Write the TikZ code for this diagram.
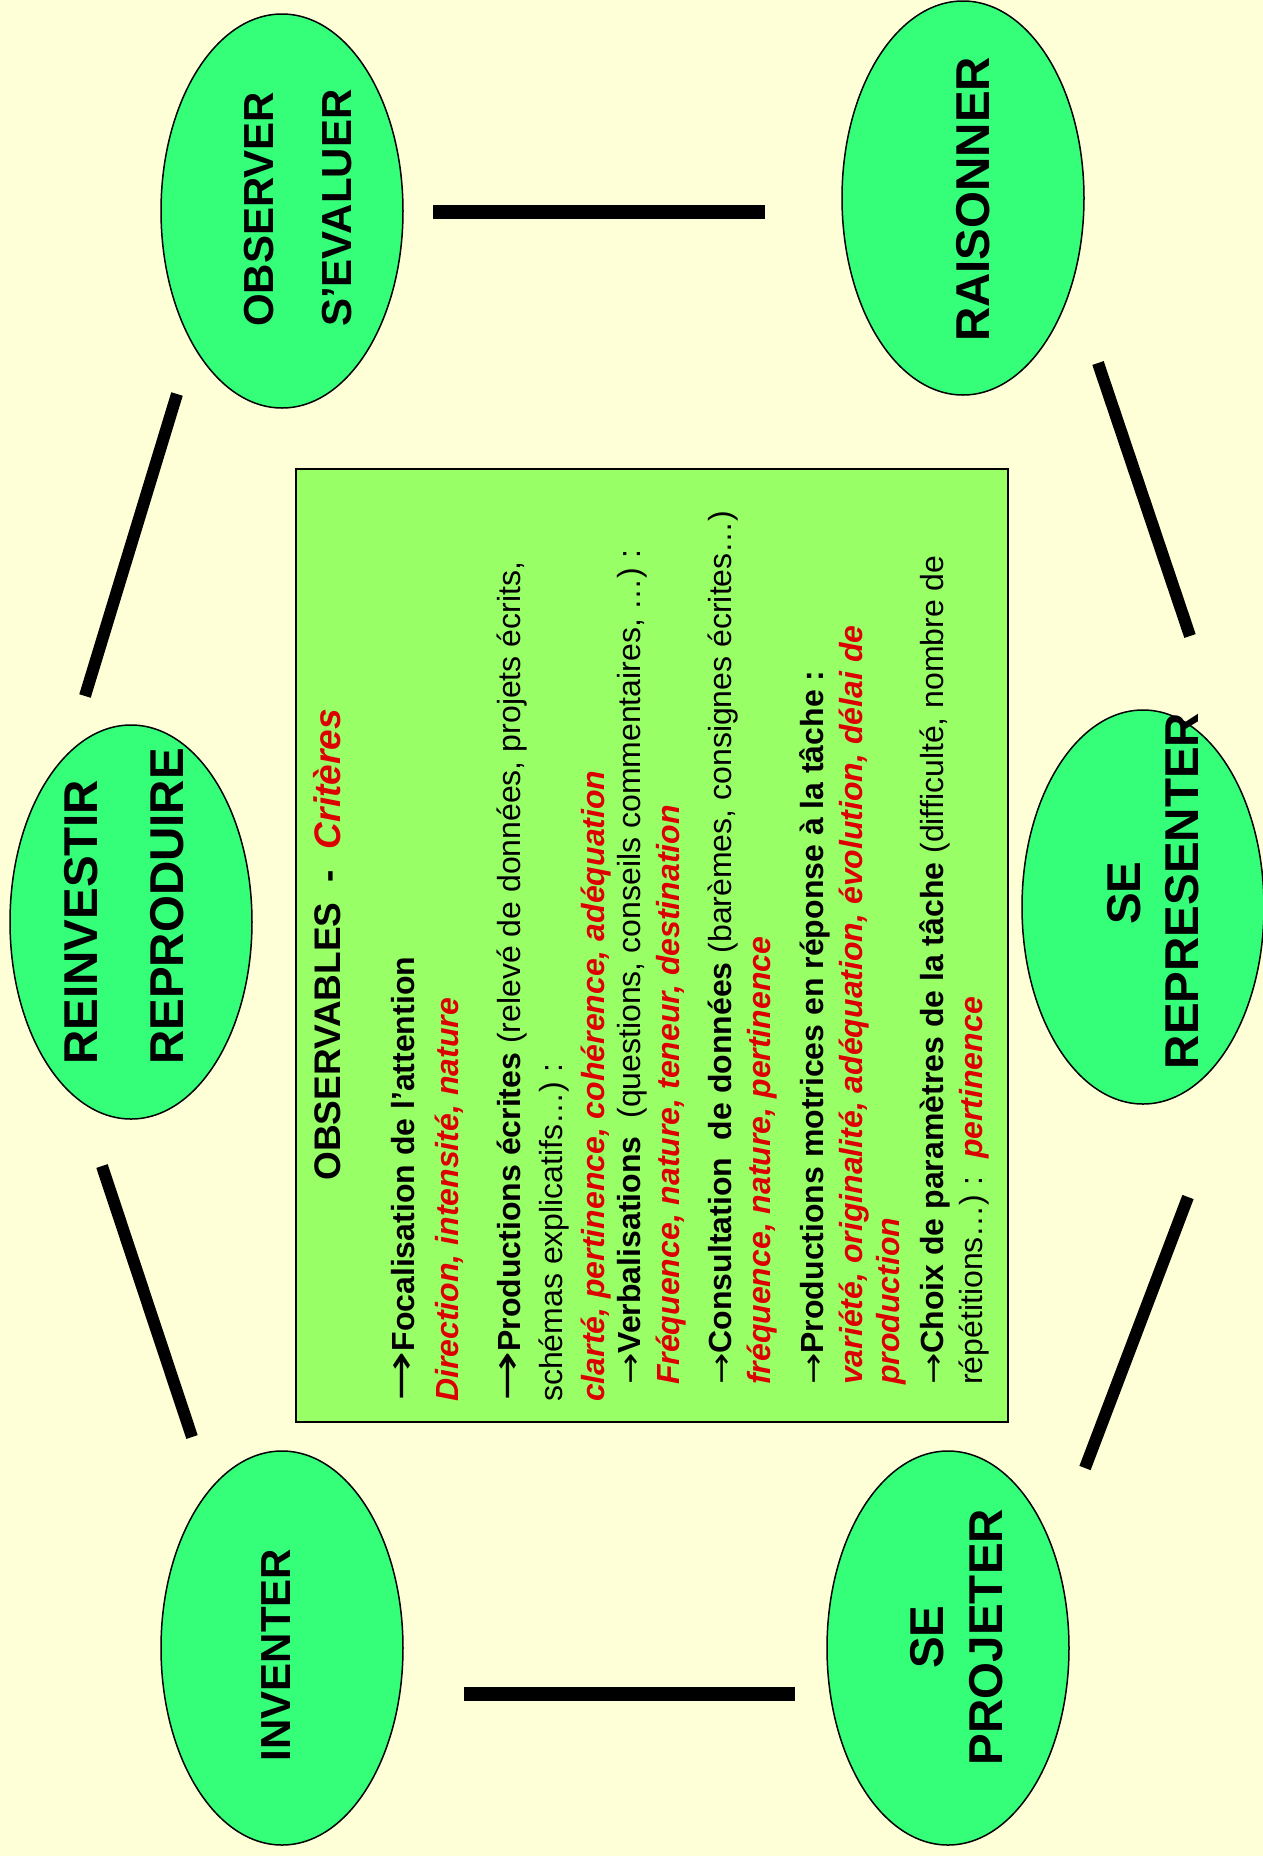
\documentclass[tikz,border=0pt]{standalone}
\usepackage{fontspec}
\setmainfont{Liberation Sans}
\newfontfamily\arrfont{DejaVu Sans}
\usetikzlibrary{shapes.geometric}
\definecolor{bg}{HTML}{FFFFD7}
\definecolor{ellfill}{HTML}{35FF78}
\definecolor{boxfill}{HTML}{99FF66}
\definecolor{critred}{HTML}{DD0000}
\newcommand{\bigarr}{{\arrfont\fontsize{40}{40}\selectfont\scalebox{1.5}[1]{→}}}
\newcommand{\smallarr}{{\arrfont\fontsize{30}{30}\selectfont\scalebox{1.25}[1]{→}}}
\newcommand{\crit}[1]{\textcolor{critred}{\textbf{\textit{#1}}}}
\tikzset{
  skill/.style={ellipse, draw=black, line width=1.5pt, fill=ellfill,
    minimum width=242pt, minimum height=394pt, inner sep=0pt},
  skilltext/.style={rotate=90, inner sep=0pt, font={\fontsize{47.5}{47.5}\selectfont\bfseries}},
  smallskill/.style={skilltext, font={\fontsize{42}{42}\selectfont\bfseries}},
  bodyline/.style={rotate=90, anchor=base west, inner sep=0pt, font={\fontsize{32}{36}\selectfont}},
  link/.style={line width=14pt},
  diag/.style={line width=12pt}
}
\begin{document}
\begin{tikzpicture}[x=1pt,y=-1pt]
\useasboundingbox (0,0) rectangle (1263,1856);
\fill[bg] (0,0) rectangle (1263,1856);

% connectors
\coordinate (t1) at (433,212);  \coordinate (t2) at (765,212);
\coordinate (b1) at (464,1694); \coordinate (b2) at (795,1694);
\coordinate (lu1) at (177,394); \coordinate (lu2) at (85,696);
\coordinate (ll1) at (102,1166); \coordinate (ll2) at (192,1437);
\coordinate (ru1) at (1098,363); \coordinate (ru2) at (1190,636);
\coordinate (rl1) at (1188,1197); \coordinate (rl2) at (1085,1468);
\draw[link] (t1) -- (t2);
\draw[link] (b1) -- (b2);
\draw[diag] (lu1) -- (lu2);
\draw[diag] (ll1) -- (ll2);
\draw[diag] (ru1) -- (ru2);
\draw[diag] (rl1) -- (rl2);

% ellipses
\node[skill] (obs) at (282,211) {};
\node[skill] (rai) at (963,198) {};
\node[skill] (rei) at (131,922) {};
\node[skill] (rep) at (1143,907) {};
\node[skill] (inv) at (282,1648) {};
\node[skill] (pro) at (948,1648) {};

\node[smallskill, anchor=base west] (obs1) at (273,327) {OBSERVER};
\node[smallskill, anchor=base west] (obs2) at (351,327) {S’EVALUER};
\node[skilltext, anchor=base west] (rai1) at (989,342) {RAISONNER};
\node[skilltext, anchor=base west] (rei1) at (97,1065) {REINVESTIR};
\node[skilltext, anchor=base west] (rei2) at (183,1065) {REPRODUIRE};
\node[skilltext, anchor=base] (rep1) at (1140,893) {SE};
\node[skilltext, anchor=base] (rep2) at (1198,891) {REPRESENTER};
\node[smallskill, anchor=base] (inv1) at (290,1655) {INVENTER};
\node[skilltext, anchor=base] (pro1) at (943,1637) {SE};
\node[skilltext, anchor=base] (pro2) at (1002,1637) {PROJETER};

% central box
\node[draw=black, line width=2.5pt, fill=boxfill, minimum width=712pt,
  minimum height=953pt, inner sep=0pt] (box) at (652,945.5) {};
\node[rotate=90, anchor=base, inner sep=0pt, font={\fontsize{37}{37}\selectfont\bfseries}]
  (title) at (340,945) {OBSERVABLES\ \ -\ \ \textcolor{critred}{\textit{Critères}}};

\node[bodyline] (l1) at (414,1402) {\bigarr\textbf{Focalisation de l’attention}};
\node[bodyline] (l2) at (458,1402) {\crit{Direction, intensité, nature}};
\node[bodyline] (l3) at (520,1402) {\bigarr\textbf{Productions écrites} (relevé de données, projets écrits,};
\node[bodyline] (l4) at (562,1402) {schémas explicatifs…) :};
\node[bodyline] (l5) at (604,1402) {\crit{clarté, pertinence, cohérence, adéquation}};
\node[bodyline] (l6) at (640,1385) {\smallarr\textbf{Verbalisations}\ \ (questions, conseils commentaires, …) :};
\node[bodyline] (l7) at (679,1385) {\crit{Fréquence, nature, teneur, destination}};
\node[bodyline] (l8) at (731,1385) {\smallarr\textbf{Consultation\ \ de données} (barèmes, consignes écrites…)};
\node[bodyline] (l9) at (770,1385) {\crit{fréquence, nature, pertinence}};
\node[bodyline] (l10) at (823,1385) {\smallarr\textbf{Productions motrices en réponse à la tâche :}};
\node[bodyline] (l11) at (862,1385) {\crit{variété, originalité, adéquation, évolution, délai de}};
\node[bodyline] (l12) at (899,1385) {\crit{production}};
\node[bodyline] (l13) at (943,1385) {\smallarr\textbf{Choix de paramètres de la tâche} (difficulté, nombre de};
\node[bodyline] (l14) at (982,1385) {répétitions…) :\ \ \crit{pertinence}};
\end{tikzpicture}
\end{document}
